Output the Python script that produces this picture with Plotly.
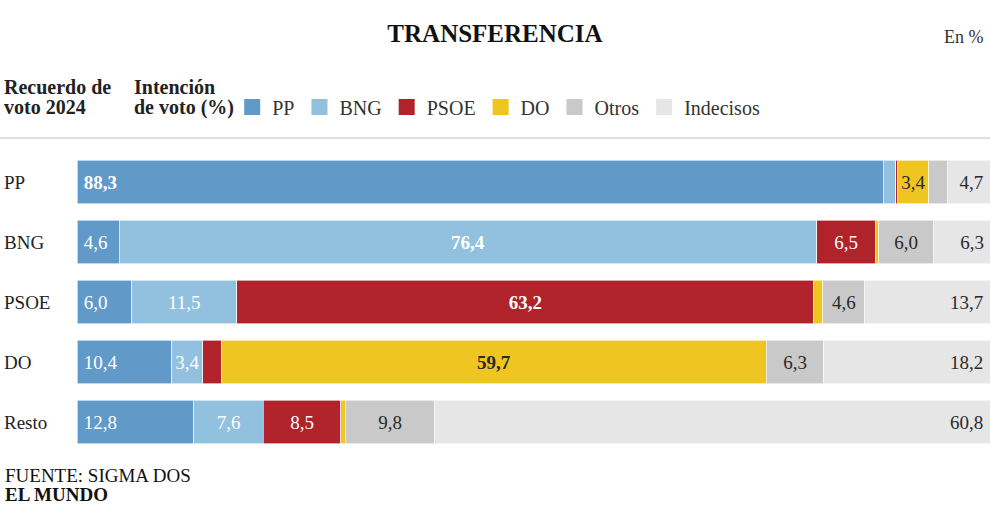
import plotly.graph_objects as go

# vote recall (rows) vs vote intention (segments), in %
recuerdo = ["PP", "BNG", "PSOE", "DO", "Resto"]
partidos = ["PP", "BNG", "PSOE", "DO", "Otros", "Indecisos"]

pp = [88.3, 4.6, 6.0, 10.4, 12.8]
bng = [1.4, 76.4, 11.5, 3.4, 7.6]
psoe = [0.2, 6.5, 63.2, 2.0, 8.5]
do = [3.4, 0.3, 1.0, 59.7, 0.5]
otros = [2.0, 6.0, 4.6, 6.3, 9.8]
indecisos = [4.7, 6.3, 13.7, 18.2, 60.8]

valores = [pp, bng, psoe, do, otros, indecisos]
colores = ["#6199c9", "#92c1df", "#b0232a", "#efc521", "#c9c9c9", "#e6e6e6"]
color_texto = ["white", "white", "white", "#2a2a2a", "#2a2a2a", "#2a2a2a"]
anclas = ["start", "middle", "middle", "middle", "middle", "end"]

FONT = "Liberation Serif"
DARK = "#222222"
THIN = "\u2009"


def etiqueta(v, partido, cat, ancla):
    # small segments get no label, the "loyal" vote is bold
    if v < 3:
        return ""
    s = f"{v:.1f}".replace(".", ",")
    if partido == cat:
        s = "<b>" + s + "</b>"
    # a bit more room from the bar edges
    if ancla == "start":
        s = THIN + s
    elif ancla == "end":
        s = s + THIN
    return s


fig = go.Figure()

for partido, vals, col, tcol, anc in zip(partidos, valores, colores, color_texto, anclas):
    fig.add_trace(go.Bar(
        y=recuerdo,
        x=vals,
        orientation="h",
        name=partido,
        marker=dict(color=col, line=dict(color="white", width=0.6)),
        text=[etiqueta(v, partido, c, anc) for v, c in zip(vals, recuerdo)],
        textposition="inside",
        insidetextanchor=anc,
        textangle=0,
        constraintext="none",
        textfont=dict(family=FONT, size=19, color=tcol),
        showlegend=False,
    ))
    # legend-only marker so the swatch is a bigger square
    fig.add_trace(go.Scatter(
        x=[None], y=[None],
        mode="markers",
        name=partido,
        marker=dict(symbol="square", size=19, color=col),
    ))

fig.update_layout(
    barmode="stack",
    bargap=0.27,
    width=990,
    height=530,
    margin=dict(l=77, r=0, t=152, b=78),
    paper_bgcolor="white",
    plot_bgcolor="white",
    font=dict(family=FONT, size=19, color=DARK),
    title=dict(
        text="<b>TRANSFERENCIA</b>",
        x=0.5, xref="container", xanchor="center",
        y=1 - 33 / 530, yref="container", yanchor="middle",
        font=dict(family=FONT, size=25, color="#111111"),
    ),
    legend=dict(
        orientation="h",
        traceorder="normal",
        x=0.17, xanchor="left",
        y=1.215, yanchor="top",
        font=dict(family=FONT, size=20, color="#333333"),
        bgcolor="rgba(0,0,0,0)",
    ),
)

fig.update_xaxes(range=[0, 100], visible=False, fixedrange=True)
fig.update_yaxes(
    categoryorder="array",
    categoryarray=recuerdo,
    autorange="reversed",
    showticklabels=False,
    showgrid=False,
    zeroline=False,
)

# row names, left aligned at the page edge
for c in recuerdo:
    fig.add_annotation(
        text=c, xref="paper", yref="y", x=-0.082, y=c,
        xanchor="left", yanchor="middle", showarrow=False,
        font=dict(family=FONT, size=19, color=DARK),
    )

# header texts
cabeceras = [
    ("Recuerdo de", -0.082, 1.217),
    ("voto 2024", -0.082, 1.15),
    ("Intención", 0.0605, 1.217),
    ("de voto (%)", 0.0605, 1.15),
]
for txt, xx, yy in cabeceras:
    fig.add_annotation(
        text="<b>" + txt + "</b>", xref="paper", yref="paper", x=xx, y=yy,
        xanchor="left", yanchor="middle", showarrow=False,
        font=dict(family=FONT, size=20, color=DARK),
    )

fig.add_annotation(
    text="En %", xref="paper", yref="paper", x=1, y=1.383, xshift=-4,
    xanchor="right", yanchor="middle", showarrow=False,
    font=dict(family=FONT, size=18, color="#333333"),
)

# footer
fig.add_annotation(
    text="FUENTE: SIGMA DOS", xref="paper", yref="paper", x=-0.0815, y=-0.077,
    xanchor="left", yanchor="middle", showarrow=False,
    font=dict(family=FONT, size=19, color="#111111"),
)
fig.add_annotation(
    text="<b>EL MUNDO</b>", xref="paper", yref="paper", x=-0.0815, y=-0.143,
    xanchor="left", yanchor="middle", showarrow=False,
    font=dict(family=FONT, size=19, color="#111111"),
)

# separator line under the header
fig.add_shape(
    type="line", xref="paper", yref="paper",
    x0=-0.0843, x1=1, y0=1.047, y1=1.047,
    line=dict(color="#d5d5d5", width=1.5),
)

# no body margin, so the 990px figure fills the window exactly
fig.write_html(
    "out.html",
    config={"displayModeBar": False},
    post_script="document.body.style.margin='0';document.body.style.overflow='hidden';",
)
